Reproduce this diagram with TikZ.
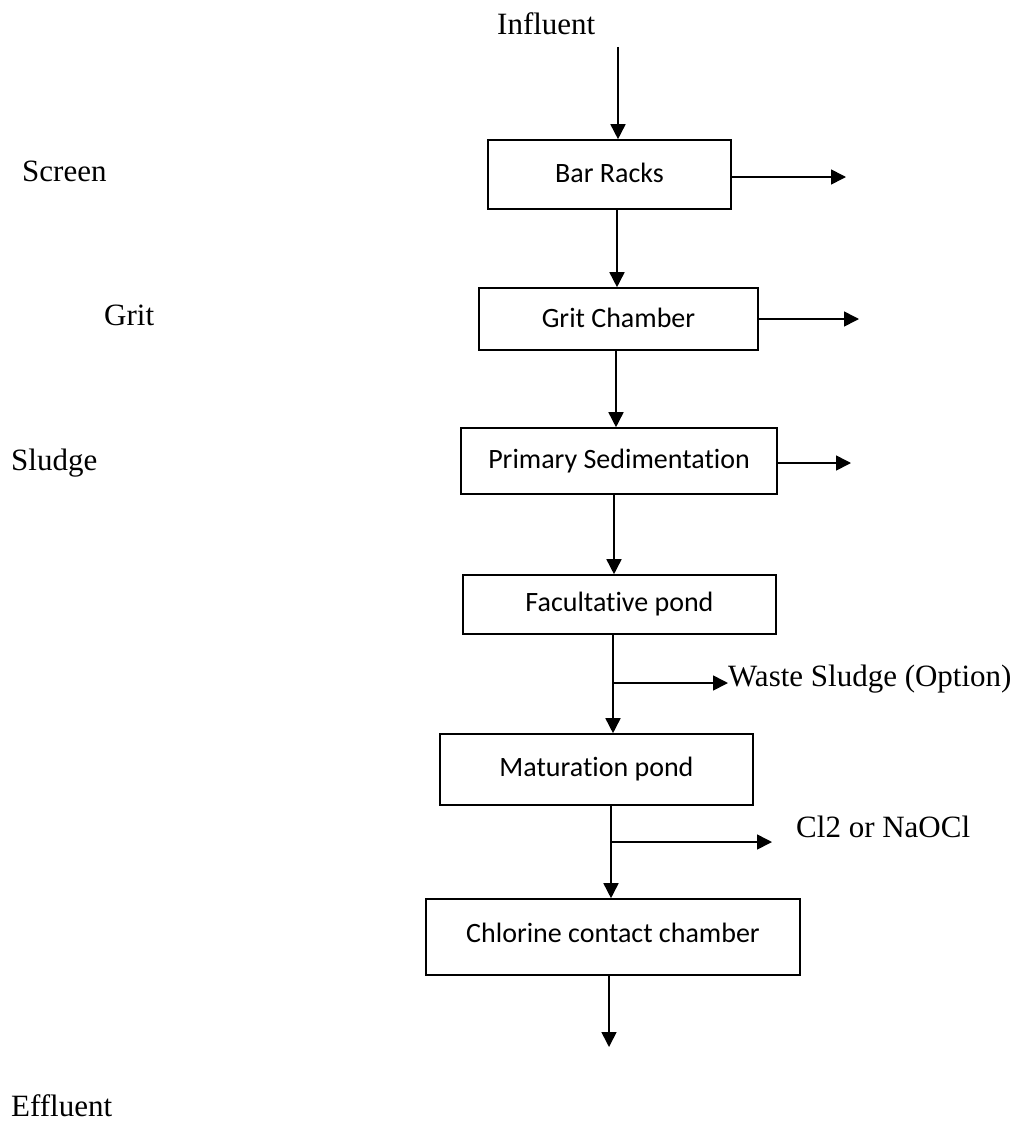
\documentclass[tikz,border=0pt]{standalone}
\usepackage{fontspec}
\setmainfont{Liberation Serif}
\newfontfamily\boxfont[Ligatures=CommonOff]{Carlito}
\usetikzlibrary{arrows.meta}
\tikzset{
  flow/.style={line width=1.6pt, -{Triangle[length=15pt,width=15pt]}},
  procbox/.style={draw, line width=1.6pt, inner sep=0pt, font=\boxfont\fontsize{28}{32}\selectfont},
  lbl/.style={anchor=base west, inner sep=0pt, font=\fontsize{31}{36}\selectfont}
}
\begin{document}
\begin{tikzpicture}[x=1pt,y=-1pt]
\useasboundingbox (0,0) rectangle (1020,1124);
% boxes
\node[procbox, minimum width=243pt, minimum height=69pt] (bar) at (609.5,174.5) {\raisebox{4pt}{Bar Racks}};
\node[procbox, minimum width=279pt, minimum height=62pt] (grit) at (618.5,319) {\raisebox{2pt}{Grit Chamber}};
\node[procbox, minimum width=316pt, minimum height=66pt] (prim) at (619,461) {\raisebox{3pt}{Primary Sedimentation}};
\node[procbox, minimum width=313pt, minimum height=59pt] (fac) at (619.5,604.5) {Facultative pond};
\node[procbox, minimum width=313pt, minimum height=71pt] (mat) at (596.5,769.5) {\raisebox{6pt}{Maturation pond}};
\node[procbox, minimum width=374pt, minimum height=76pt] (chl) at (613,937) {\raisebox{9pt}{Chlorine contact chamber}};
% labels
\node[lbl] (infl) at (497,35) {Influent};
\node[lbl] (scr) at (22,181) {Screen};
\node[lbl] (gritl) at (104,325) {Grit};
\node[lbl] (sludge) at (11,470) {Sludge};
\node[lbl] (waste) at (728,686) {Waste Sludge (Option)};
\node[lbl] (cl) at (796,837) {Cl2 or NaOCl};
\node[lbl] (eff) at (11,1116) {Effluent};
% coordinates
\coordinate (instart) at (618,47);
\coordinate (c1) at (617,0);
\coordinate (c2) at (616,0);
\coordinate (c3) at (614,0);
\coordinate (wj) at (613,683);
\coordinate (cj) at (611,842);
\coordinate (outend) at (609,1047);
\coordinate (barout) at (846,177);
\coordinate (gritout) at (859,319);
\coordinate (primout) at (851,463);
\coordinate (clend) at (772,842);
% main flow
\draw[flow] (instart) -- (instart |- bar.north);
\draw[flow] (bar.south -| c1) -- (grit.north -| c1);
\draw[flow] (grit.south -| c2) -- (prim.north -| c2);
\draw[flow] (prim.south -| c3) -- (fac.north -| c3);
\draw[flow] (fac.south -| wj) -- (mat.north -| wj);
\draw[flow] (mat.south -| cj) -- (chl.north -| cj);
\draw[flow] (chl.south -| outend) -- (outend);
% side outputs
\draw[flow] (bar.east |- barout) -- (barout);
\draw[flow] (grit.east |- gritout) -- (gritout);
\draw[flow] (prim.east |- primout) -- (primout);
\draw[flow] (wj) -- (wj -| waste.west);
\draw[flow] (cj) -- (clend);
\end{tikzpicture}
\end{document}
